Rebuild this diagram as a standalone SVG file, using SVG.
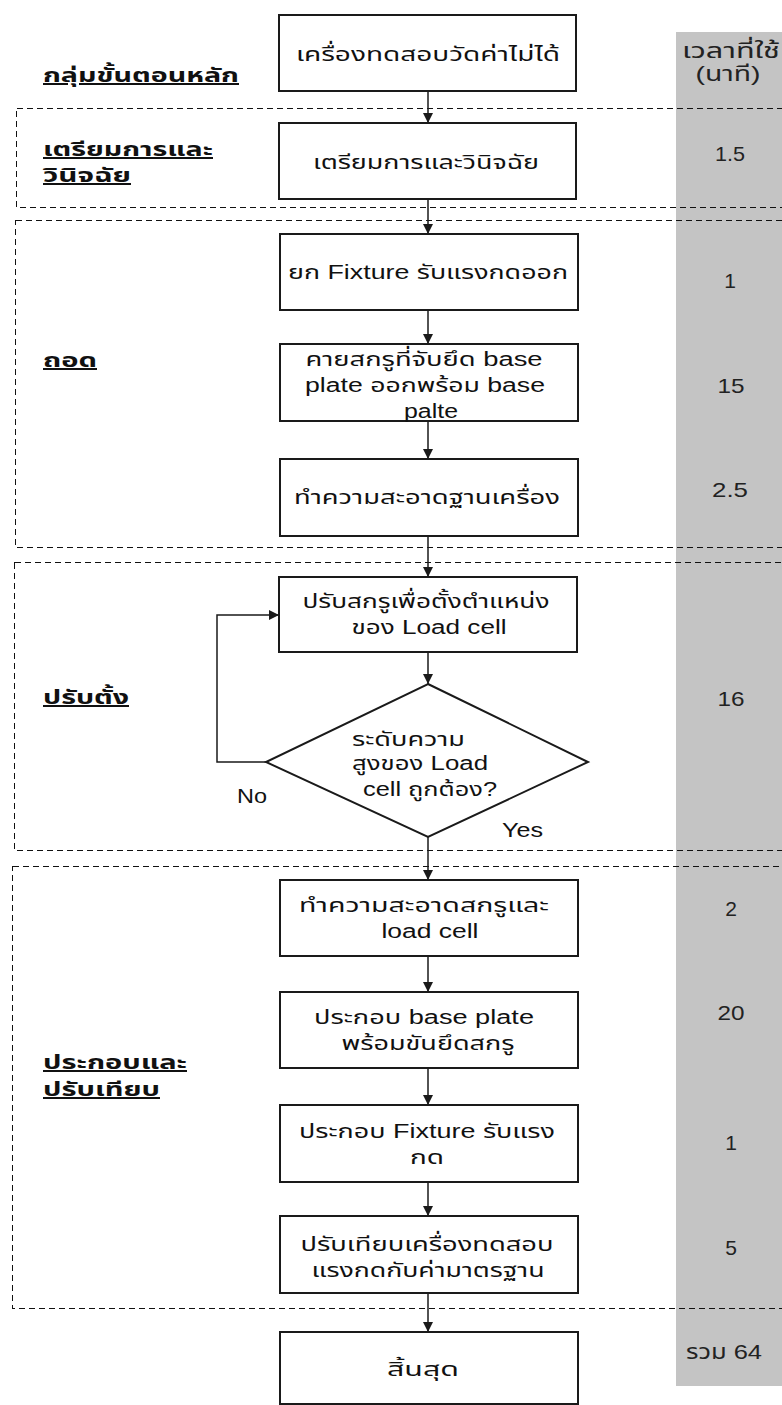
<svg xmlns="http://www.w3.org/2000/svg" width="782" height="1405" viewBox="0 0 782 1405">
<defs>
<style>
.box{fill:#fff;stroke:#1a1a1a;stroke-width:2}
.grp{fill:none;stroke:#111;stroke-width:1;stroke-dasharray:6 4;shape-rendering:crispEdges}
.t{font-family:"Liberation Sans","Noto Sans Thai","Noto Sans",sans-serif;font-size:20px;fill:#111;text-anchor:middle}
.n{font-family:"Liberation Sans","Noto Sans Thai","Noto Sans",sans-serif;font-size:21px;fill:#222;text-anchor:middle}
.g{font-family:"Liberation Sans","Noto Sans Thai","Noto Sans",sans-serif;font-size:20px;font-weight:bold;fill:#111;text-decoration:underline}
.l{font-family:"Liberation Sans","Noto Sans Thai","Noto Sans",sans-serif;font-size:20px;fill:#111}
.c{fill:none;stroke:#1a1a1a;stroke-width:1.5}
</style>
<marker id="ah" viewBox="0 0 10 10" refX="10" refY="5" markerWidth="10" markerHeight="10" markerUnits="userSpaceOnUse" orient="auto">
<path d="M0,0 L10,5 L0,10 z" fill="#1a1a1a"/>
</marker>
</defs>
<rect width="782" height="1405" fill="#fff"/>
<rect id="time-column" x="676" y="32" width="106" height="1354" fill="#c4c4c4"/>
<g id="groups">
<rect class="grp" x="16.5" y="108.5" width="780" height="99"/>
<rect class="grp" x="15.5" y="220.5" width="780" height="327"/>
<rect class="grp" x="14.5" y="562.5" width="780" height="288"/>
<rect class="grp" x="12.5" y="866.5" width="780" height="442"/>
</g>
<g id="group-labels">
<text class="g" x="43" y="82" textLength="196" lengthAdjust="spacingAndGlyphs">กลุ่มขั้นตอนหลัก</text>
<text class="g" x="43" y="156" textLength="170" lengthAdjust="spacingAndGlyphs">เตรียมการและ</text>
<text class="g" x="43" y="182" textLength="88" lengthAdjust="spacingAndGlyphs">วินิจฉัย</text>
<text class="g" x="43" y="367" textLength="54" lengthAdjust="spacingAndGlyphs">ถอด</text>
<text class="g" x="43" y="704" textLength="86" lengthAdjust="spacingAndGlyphs">ปรับตั้ง</text>
<text class="g" x="43" y="1069" textLength="144" lengthAdjust="spacingAndGlyphs">ประกอบและ</text>
<text class="g" x="43" y="1096" textLength="117" lengthAdjust="spacingAndGlyphs">ปรับเทียบ</text>
</g>
<g id="times">
<text class="n" x="731" y="58" textLength="98" lengthAdjust="spacingAndGlyphs">เวลาที่ใช้</text>
<text class="n" x="728" y="81" textLength="65" lengthAdjust="spacingAndGlyphs">(นาที)</text>
<text class="n" x="730" y="161" textLength="30" lengthAdjust="spacingAndGlyphs">1.5</text>
<text class="n" x="730" y="288">1</text>
<text class="n" x="731" y="393" textLength="27" lengthAdjust="spacingAndGlyphs">15</text>
<text class="n" x="730" y="497" textLength="36" lengthAdjust="spacingAndGlyphs">2.5</text>
<text class="n" x="731" y="706" textLength="27" lengthAdjust="spacingAndGlyphs">16</text>
<text class="n" x="731" y="916">2</text>
<text class="n" x="731" y="1020" textLength="27" lengthAdjust="spacingAndGlyphs">20</text>
<text class="n" x="731" y="1150">1</text>
<text class="n" x="731" y="1255">5</text>
<text class="n" x="724" y="1359" textLength="76" lengthAdjust="spacingAndGlyphs">รวม 64</text>
</g>
<g id="connectors">
<line class="c" x1="428" y1="91" x2="428" y2="123" marker-end="url(#ah)"/>
<line class="c" x1="428" y1="199" x2="428" y2="234" marker-end="url(#ah)"/>
<line class="c" x1="428" y1="310" x2="428" y2="344" marker-end="url(#ah)"/>
<line class="c" x1="428" y1="421" x2="428" y2="459" marker-end="url(#ah)"/>
<line class="c" x1="428" y1="536" x2="428" y2="577" marker-end="url(#ah)"/>
<line class="c" x1="428" y1="652" x2="428" y2="684" marker-end="url(#ah)"/>
<line class="c" x1="428" y1="837" x2="428" y2="880" marker-end="url(#ah)"/>
<line class="c" x1="428" y1="956" x2="428" y2="992" marker-end="url(#ah)"/>
<line class="c" x1="428" y1="1068" x2="428" y2="1105" marker-end="url(#ah)"/>
<line class="c" x1="428" y1="1182" x2="428" y2="1216" marker-end="url(#ah)"/>
<line class="c" x1="428" y1="1293" x2="428" y2="1332" marker-end="url(#ah)"/>
<polyline class="c" points="266,762 217,762 217,615 279,615" marker-end="url(#ah)"/>
<text class="l" x="237" y="803" textLength="30" lengthAdjust="spacingAndGlyphs">No</text>
<text class="l" x="502" y="837" textLength="41" lengthAdjust="spacingAndGlyphs">Yes</text>
</g>
<g id="n1"><rect class="box" x="279" y="15" width="297" height="76"/><text class="t" x="428" y="61" textLength="264" lengthAdjust="spacingAndGlyphs">เครื่องทดสอบวัดค่าไม่ได้</text></g>
<g id="n2"><rect class="box" x="279" y="123" width="297" height="76"/><text class="t" x="426" y="169" textLength="226" lengthAdjust="spacingAndGlyphs">เตรียมการและวินิจฉัย</text></g>
<g id="n3"><rect class="box" x="280" y="234" width="298" height="76"/><text class="t" x="428" y="279" textLength="280" lengthAdjust="spacingAndGlyphs">ยก Fixture รับแรงกดออก</text></g>
<g id="n4"><rect class="box" x="280" y="344" width="298" height="77"/><text class="t" x="424" y="366" textLength="237" lengthAdjust="spacingAndGlyphs">คายสกรูที่จับยึด base</text><text class="t" x="425" y="392" textLength="240" lengthAdjust="spacingAndGlyphs">plate ออกพร้อม base</text><text class="t" x="431" y="418" textLength="54" lengthAdjust="spacingAndGlyphs">palte</text></g>
<g id="n5"><rect class="box" x="280" y="459" width="298" height="77"/><text class="t" x="427" y="504" textLength="266" lengthAdjust="spacingAndGlyphs">ทำความสะอาดฐานเครื่อง</text></g>
<g id="n6"><rect class="box" x="279" y="577" width="298" height="75"/><text class="t" x="426" y="608" textLength="247" lengthAdjust="spacingAndGlyphs">ปรับสกรูเพื่อตั้งตำแหน่ง</text><text class="t" x="429" y="634" textLength="155" lengthAdjust="spacingAndGlyphs">ของ Load cell</text></g>
<g id="d1"><polygon class="box" points="428,684 588,762 428,837 266,762"/><text class="l" x="352" y="746" textLength="113" lengthAdjust="spacingAndGlyphs">ระดับความ</text><text class="l" x="352" y="770" textLength="136" lengthAdjust="spacingAndGlyphs">สูงของ Load</text><text class="l" x="363" y="796" textLength="134" lengthAdjust="spacingAndGlyphs">cell ถูกต้อง?</text></g>
<g id="n7"><rect class="box" x="280" y="880" width="298" height="76"/><text class="t" x="424" y="912" textLength="250" lengthAdjust="spacingAndGlyphs">ทำความสะอาดสกรูและ</text><text class="t" x="430" y="938" textLength="97" lengthAdjust="spacingAndGlyphs">load cell</text></g>
<g id="n8"><rect class="box" x="280" y="992" width="298" height="76"/><text class="t" x="424" y="1024" textLength="220" lengthAdjust="spacingAndGlyphs">ประกอบ base plate</text><text class="t" x="428" y="1050" textLength="173" lengthAdjust="spacingAndGlyphs">พร้อมขันยึดสกรู</text></g>
<g id="n9"><rect class="box" x="280" y="1105" width="298" height="77"/><text class="t" x="427" y="1138" textLength="256" lengthAdjust="spacingAndGlyphs">ประกอบ Fixture รับแรง</text><text class="t" x="427" y="1164" textLength="34" lengthAdjust="spacingAndGlyphs">กด</text></g>
<g id="n10"><rect class="box" x="280" y="1216" width="298" height="77"/><text class="t" x="427" y="1251" textLength="253" lengthAdjust="spacingAndGlyphs">ปรับเทียบเครื่องทดสอบ</text><text class="t" x="428" y="1277" textLength="233" lengthAdjust="spacingAndGlyphs">แรงกดกับค่ามาตรฐาน</text></g>
<g id="n11"><rect class="box" x="280" y="1332" width="298" height="72"/><text class="t" x="423" y="1376" textLength="72" lengthAdjust="spacingAndGlyphs">สิ้นสุด</text></g>
</svg>
